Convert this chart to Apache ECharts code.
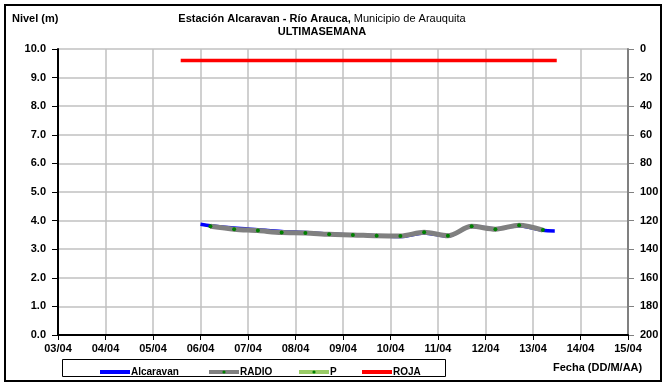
<!DOCTYPE html>
<html>
<head>
<meta charset="utf-8">
<script src="https://cdn.jsdelivr.net/npm/echarts@6/dist/echarts.min.js"></script>
<style>
  html, body { margin: 0; padding: 0; background: #fff; }
  #chart { width: 666px; height: 384px; }
</style>
</head>
<body>
<div id="chart"></div>
<script>
// dias del eje x (03/04 .. 15/04)
var dayTicks = [3, 4, 5, 6, 7, 8, 9, 10, 11, 12, 13, 14, 15];

// Alcaravan (nivel horario, linea azul)
var alcaravanTimes = ['06/04 00:00', '06/04 05:00', '06/04 17:00', '07/04 05:00', '07/04 17:00',
  '08/04 05:00', '08/04 17:00', '09/04 05:00', '09/04 17:00', '10/04 05:00', '10/04 17:00',
  '11/04 05:00', '11/04 17:00', '12/04 05:00', '12/04 17:00', '13/04 05:00', '13/04 11:00'];
var alcaravanValues = [3.87, 3.82, 3.74, 3.68, 3.62, 3.58, 3.53, 3.50, 3.47, 3.44, 3.57,
  3.46, 3.80, 3.71, 3.82, 3.66, 3.64];

// RADIO y P (lecturas cada 12 h)
var radioTimes = ['06/04 05:00', '06/04 17:00', '07/04 05:00', '07/04 17:00', '08/04 05:00',
  '08/04 17:00', '09/04 05:00', '09/04 17:00', '10/04 05:00', '10/04 17:00', '11/04 05:00',
  '11/04 17:00', '12/04 05:00', '12/04 17:00', '13/04 05:00'];
var radioValues = [3.80, 3.70, 3.65, 3.58, 3.57, 3.52, 3.50, 3.47, 3.46, 3.59, 3.47, 3.80, 3.70, 3.84, 3.67];
var pValues = [3.80, 3.70, 3.65, 3.58, 3.57, 3.52, 3.50, 3.47, 3.46, 3.59, 3.47, 3.80, 3.70, 3.84, 3.67];

// ROJA (umbral)
var rojaTimes = ['05/04 14:00', '13/04 12:00'];
var rojaValues = [9.6, 9.6];

// "DD/MM HH:mm" -> dia decimal
function toDay(s) {
  var d = parseInt(s.slice(0, 2), 10);
  var h = parseInt(s.slice(6, 8), 10);
  var m = parseInt(s.slice(9, 11), 10);
  return d + (h + m / 60) / 24;
}
function pairs(times, values) {
  return times.map(function (t, i) { return [toDay(t), values[i]]; });
}

var font = 'Liberation Sans, Arial, sans-serif';
var chart = echarts.init(document.getElementById('chart'));

var legendBase = {
  top: 362,
  itemWidth: 30,
  itemHeight: 4,
  itemGap: 0,
  textStyle: { fontFamily: font, fontWeight: 'bold', fontSize: 10, color: '#000', padding: [0, 0, 0, -4] }
};

var option = {
  animation: false,
  backgroundColor: '#fff',
  grid: { left: 58, right: 38, top: 49, bottom: 49 },
  legend: [
    Object.assign({ left: 95, data: [{ name: 'Alcaravan', icon: 'rect' }] }, legendBase),
    Object.assign({ left: 202, data: ['RADIO'], lineStyle: { width: 4 } }, legendBase),
    Object.assign({ left: 292, data: ['P'], lineStyle: { width: 4 } }, legendBase),
    Object.assign({ left: 357, data: [{ name: 'ROJA', icon: 'rect' }] }, legendBase)
  ],
  xAxis: {
    type: 'value',
    min: dayTicks[0],
    max: dayTicks[dayTicks.length - 1],
    interval: 1,
    axisLine: { lineStyle: { color: '#000', width: 2 } },
    axisTick: { show: true, length: 5, lineStyle: { color: '#000' } },
    axisLabel: {
      margin: 8,
      fontFamily: font, fontWeight: 'bold', fontSize: 11, color: '#000',
      formatter: function (v) { return (v < 10 ? '0' + v : v) + '/04'; }
    },
    splitLine: { show: true, lineStyle: { color: '#c0c0c0', width: 1.5 } }
  },
  yAxis: [
    {
      type: 'value',
      min: 0, max: 10, interval: 1,
      axisLine: { show: true, lineStyle: { color: '#000', width: 2 } },
      axisTick: { show: true, length: 6, lineStyle: { color: '#000' } },
      axisLabel: {
        margin: 12,
        fontFamily: font, fontWeight: 'bold', fontSize: 11, color: '#000',
        formatter: function (v) { return v.toFixed(1); }
      },
      splitLine: { show: true, lineStyle: { color: '#c0c0c0', width: 1.5 } }
    },
    {
      type: 'value',
      min: 0, max: 200, interval: 20,
      inverse: true,
      position: 'right',
      axisLine: { show: true, lineStyle: { color: '#808080', width: 2 } },
      axisTick: { show: true, length: 6, lineStyle: { color: '#808080' } },
      axisLabel: {
        margin: 12,
        fontFamily: font, fontWeight: 'bold', fontSize: 11, color: '#000'
      },
      splitLine: { show: false }
    }
  ],
  series: [
    {
      name: 'Alcaravan',
      type: 'line',
      z: 3,
      smooth: 0.3,
      showSymbol: false,
      symbol: 'none',
      color: '#0000ff',
      lineStyle: { color: '#0000ff', width: 3.5 },
      data: pairs(alcaravanTimes, alcaravanValues)
    },
    {
      name: 'RADIO',
      type: 'line',
      z: 4,
      smooth: 0.3,
      symbol: 'circle',
      symbolSize: 4,
      color: '#808080',
      itemStyle: { color: '#008000' },
      lineStyle: { color: '#808080', width: 5 },
      data: pairs(radioTimes, radioValues)
    },
    {
      name: 'P',
      type: 'line',
      z: 2,
      smooth: 0.3,
      symbol: 'circle',
      symbolSize: 4,
      color: '#99cc66',
      itemStyle: { color: '#008000' },
      lineStyle: { color: '#99cc66', width: 3 },
      data: pairs(radioTimes, pValues)
    },
    {
      name: 'ROJA',
      type: 'line',
      z: 3,
      symbol: 'none',
      color: '#ff0000',
      lineStyle: { color: '#ff0000', width: 3.5 },
      data: pairs(rojaTimes, rojaValues)
    }
  ],
  graphic: [
    // marco exterior
    { type: 'rect', shape: { x: 5, y: 5, width: 656, height: 376 },
      style: { fill: 'none', stroke: '#000', lineWidth: 2 }, silent: true },
    // recuadro de la leyenda
    { type: 'rect', shape: { x: 62.5, y: 359.5, width: 383, height: 17 },
      style: { fill: 'none', stroke: '#000', lineWidth: 1 }, silent: true },
    { type: 'text', left: 12, top: 13,
      style: { text: 'Nivel (m)', fontFamily: font, fontWeight: 'bold', fontSize: 11, fill: '#000' } },
    { type: 'text', x: 322, y: 13,
      style: {
        text: '{b|Estación Alcaravan - Río Arauca,}{n| Municipio de Arauquita}',
        align: 'center',
        rich: {
          b: { fontFamily: font, fontWeight: 'bold', fontSize: 11, fill: '#000' },
          n: { fontFamily: font, fontSize: 11, fill: '#000' }
        }
      } },
    { type: 'text', x: 322, y: 26,
      style: { text: 'ULTIMASEMANA', align: 'center', fontFamily: font, fontWeight: 'bold', fontSize: 11, fill: '#000' } },
    { type: 'text', x: 553, y: 362,
      style: { text: 'Fecha (DD/M/AA)', fontFamily: font, fontWeight: 'bold', fontSize: 11, fill: '#000' } }
  ]
};

chart.setOption(option);
</script>
</body>
</html>
